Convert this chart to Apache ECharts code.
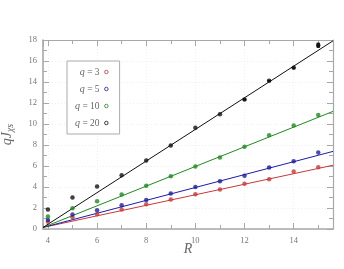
<!DOCTYPE html>
<html><head><meta charset="utf-8">
<script src="https://cdn.jsdelivr.net/npm/echarts@6/dist/echarts.min.js"></script>
<style>html,body{margin:0;padding:0;background:#fff}#c{width:344px;height:269px}</style>
</head><body><div id="c"></div>
<script>
const R = [4,5,6,7,8,9,10,11,12,13,14,15];
const qLabels = ['3','5','10','20'];
const q3  = [0.70,1.11,1.40,1.85,2.35,2.80,3.31,3.76,4.30,4.74,5.48,5.89];
const q5  = [0.86,1.37,1.78,2.26,2.77,3.37,4.01,4.55,5.07,5.86,6.46,7.29];
const q10 = [1.20,1.97,2.64,3.28,4.11,5.03,5.96,6.82,7.84,8.92,9.85,10.86];
const q20 = [1.85,2.99,4.04,5.13,6.53,7.96,9.65,10.93,12.33,14.11,15.35,17.50];
const err20 = [0,0,0,0,0,0,0,0,0.12,0.1,0.1,0.25];
const fitX = [3.8, 15.6];
const fit3  = [0.15, 6.07];
const fit5  = [0.15, 7.39];
const fit10 = [0.15, 11.20];
const fit20 = [0.15, 17.92];
const xTickLabels = [4,6,8,10,12,14];
const yTickLabels = [0,2,4,6,8,10,12,14,16,18];

const colors = ['#c8383a','#1c1ca6','#1f8a1f','#111111'];
const vals = [q3,q5,q10,q20];
const fits = [fit3,fit5,fit10,fit20];
const FONT = 'Liberation Serif';
const axisGray = '#a8a8a8';

const chart = echarts.init(document.getElementById('c'));
const series = [];
vals.forEach((v,i)=>{
  series.push({
    name: 'fit'+qLabels[i], type:'line', xAxisIndex:0, yAxisIndex:0,
    data: fitX.map((x,k)=>[x,fits[i][k]]), showSymbol:false, symbol:'none',
    lineStyle:{color:colors[i],width:1}, silent:true, z:2
  });
});
vals.forEach((v,i)=>{
  series.push({
    name: 'q = '+qLabels[i], type:'scatter', xAxisIndex:0, yAxisIndex:0,
    data: R.map((r,k)=>[r,v[k]]), symbol:'circle', symbolSize:4.5,
    itemStyle:{color:colors[i]}, z:3
  });
});
series.push({
  type:'custom', xAxisIndex:0, yAxisIndex:0, z:4,
  data: R.map((r,k)=>[r,q20[k],err20[k]]),
  renderItem:(params, api)=>{
    const e = api.value(2);
    if (!e) return null;
    const x = api.value(0), y = api.value(1);
    const p1 = api.coord([x,y-e]), p2 = api.coord([x,y+e]);
    return {type:'rect', shape:{x:p1[0]-1.6, y:p2[1], width:3.2, height:p1[1]-p2[1]}, style:{fill:'#111'}};
  }
});

const xBase = {type:'value', min:3.8, max:15.6, gridIndex:0};
const labelStyle = {color:'#777', fontSize:8.5, fontFamily:FONT};
chart.setOption({
  animation:false,
  grid:{left:43, right:11, top:40, bottom:40, containLabel:false, outerBoundsMode:'none'},
  legend:{
    orient:'vertical', left:67, top:61, align:'right',
    data: qLabels.map((q,i)=>({name:'q = '+q, icon:'circle',
      itemStyle:{color:'#fff', borderColor:colors[i], borderWidth:1}})),
    itemWidth:3.5, itemHeight:3.5, itemGap:7, 
    padding:[6,11,6,8], borderColor:'#aaa', borderWidth:1, backgroundColor:'#fff',
    formatter: n => '{i|q} = ' + n.split('= ')[1],
    textStyle:{fontFamily:FONT, fontSize:9.5, color:'#666', width:28, align:'right',
      rich:{i:{fontStyle:'italic', fontFamily:FONT, fontSize:10, color:'#666'}}}
  },
  xAxis:[
    Object.assign({}, xBase, {
      position:'bottom', splitNumber:5,
      name:'R', nameLocation:'middle', nameGap:13, nameMoveOverlap:false,
      nameTextStyle:{fontFamily:FONT, fontStyle:'italic', fontSize:14, color:'#666'},
      axisLine:{show:true, lineStyle:{color:axisGray, width:1.6}},
      axisTick:{show:true, inside:true, length:6, lineStyle:{color:axisGray}},
      axisLabel:Object.assign({margin:7, formatter:v=> xTickLabels.indexOf(Math.round(v*1000)/1000)>=0 ? String(Math.round(v)) : ''}, labelStyle),
      splitLine:{show:true, lineStyle:{color:'#e6e6e6', width:0.6, type:[1,2]}}
    }),
    Object.assign({}, xBase, {
      position:'bottom', splitNumber:12,
      axisLine:{show:false}, axisTick:{show:true, inside:true, length:4, lineStyle:{color:axisGray}},
      axisLabel:{show:false}, splitLine:{show:false}
    }),
    Object.assign({}, xBase, {
      position:'top', splitNumber:5,
      axisLine:{show:true, lineStyle:{color:axisGray, width:1.2}},
      axisTick:{show:true, inside:true, length:6, lineStyle:{color:axisGray}},
      axisLabel:{show:false}, splitLine:{show:false}
    }),
    Object.assign({}, xBase, {
      position:'top', splitNumber:12,
      axisLine:{show:false}, axisTick:{show:true, inside:true, length:4, lineStyle:{color:axisGray}},
      axisLabel:{show:false}, splitLine:{show:false}
    })
  ],
  yAxis:[
    {type:'value', min:0, max:18, interval:2, position:'left',
      name:'{a|qJ}{b|χs}', nameLocation:'middle', nameGap:28, nameRotate:90,
      nameTextStyle:{fontFamily:FONT, color:'#666', rich:{
        a:{fontFamily:FONT, fontStyle:'italic', fontSize:14, color:'#666'},
        b:{fontFamily:FONT, fontStyle:'italic', fontSize:10, color:'#666', padding:[6,0,0,0]}}},
      axisLine:{show:true, lineStyle:{color:axisGray, width:1.6}},
      axisTick:{show:true, inside:true, length:6, lineStyle:{color:axisGray}},
      minorTick:{show:true, splitNumber:2, length:4, lineStyle:{color:axisGray}},
      axisLabel:Object.assign({margin:6, formatter:v=> yTickLabels.indexOf(v)>=0 ? String(v) : ''}, labelStyle),
      splitLine:{show:true, lineStyle:{color:'#e6e6e6', width:0.6, type:[1,2]}}
    },
    {type:'value', min:0, max:18, interval:2, position:'right',
      axisLine:{show:true, lineStyle:{color:axisGray, width:1.2}},
      axisTick:{show:true, inside:true, length:6, lineStyle:{color:axisGray}},
      minorTick:{show:true, splitNumber:2, length:4, lineStyle:{color:axisGray}},
      axisLabel:{show:false}, splitLine:{show:false}
    }
  ],
  series: series
});
</script></body></html>
